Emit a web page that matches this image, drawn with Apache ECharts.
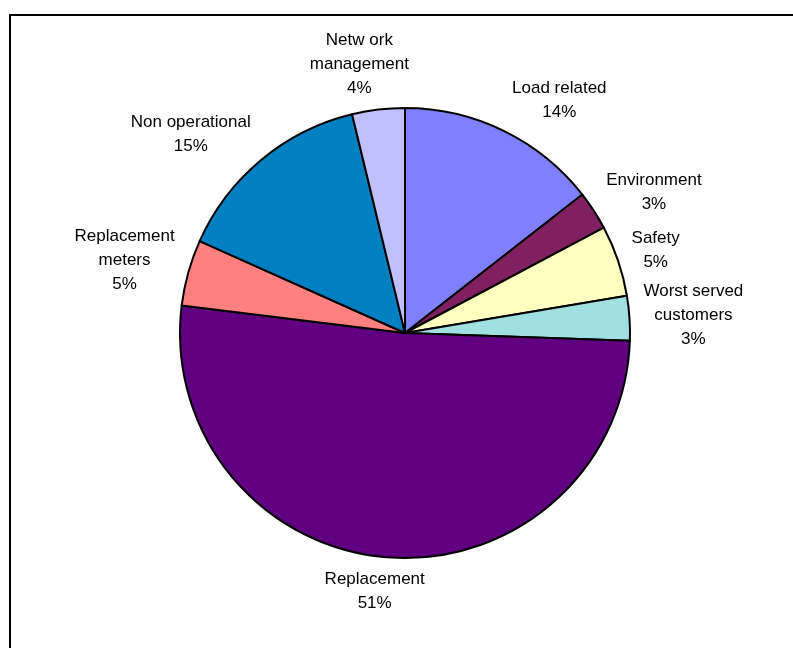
<!DOCTYPE html>
<html>
<head>
<meta charset="utf-8">
<title>Capital expenditure by category</title>
<script src="https://cdn.jsdelivr.net/npm/echarts@6/dist/echarts.min.js"></script>
<style>
  html, body { margin: 0; padding: 0; background: #ffffff; }
  #chart { width: 793px; height: 648px; }
</style>
</head>
<body>
<div id="chart"></div>
<script>
// Spending categories, clockwise from twelve o'clock
const categories = [
  'Load related',
  'Environment',
  'Safety',
  'Worst served\ncustomers',
  'Replacement',
  'Replacement\nmeters',
  'Non operational',
  'Netw ork\nmanagement'
];

// Share of total spend (%)
const shares = [14.45, 2.8, 5.1, 3.2, 51.4, 4.75, 14.52, 3.78];

// Slice fills
const sliceColors = [
  '#8080FF', '#802060', '#FFFFC0', '#A0E0E0',
  '#600080', '#FF8080', '#0080C0', '#C0C0FF'
];

const PIE_CENTER = [405, 333];
const PIE_RADIUS = 225;
const LABEL_GAP = 10;

const total = shares.reduce((a, b) => a + b, 0);

const chart = echarts.init(document.getElementById('chart'), null, { renderer: 'canvas' });

chart.setOption({
  backgroundColor: '#ffffff',
  animation: false,
  graphic: [{
    type: 'rect',
    silent: true,
    z: -1,
    shape: { x: 10, y: 15, width: 830, height: 700 },
    style: { fill: 'none', stroke: '#000000', lineWidth: 2 }
  }],
  series: [{
    type: 'pie',
    center: PIE_CENTER,
    radius: PIE_RADIUS,
    startAngle: 90,
    clockwise: true,
    avoidLabelOverlap: false,
    emphasis: { disabled: true },
    itemStyle: { borderColor: '#000000', borderWidth: 2 },
    label: {
      show: true,
      position: 'outside',
      color: '#000000',
      fontFamily: '"Liberation Sans", Arial, sans-serif',
      fontSize: 17,
      lineHeight: 24,
      align: 'center',
      formatter: p => p.name + '\n' + Math.round(p.percent) + '%'
    },
    labelLine: { show: false },
    // Place each label just beyond the rim, along the slice's mid-angle
    labelLayout: function (p) {
      const i = p.dataIndex;
      let before = 0;
      for (let k = 0; k < i; k++) before += shares[k];
      const mid = (before + shares[i] / 2) / total * Math.PI * 2;
      const ux = Math.sin(mid);
      const uy = -Math.cos(mid);
      const w = p.labelRect.width;
      const h = p.labelRect.height;
      const r = PIE_RADIUS + LABEL_GAP;
      const x = PIE_CENTER[0] + r * ux + Math.sign(ux) * (w / 2 + 4) * Math.min(1, 2.8 * Math.abs(ux));
      const y = PIE_CENTER[1] + r * uy + uy * (h / 2);
      return { x: x, y: y, align: 'center', verticalAlign: 'middle' };
    },
    data: categories.map((name, i) => ({
      name: name,
      value: shares[i],
      itemStyle: { color: sliceColors[i] }
    }))
  }]
});
</script>
</body>
</html>
